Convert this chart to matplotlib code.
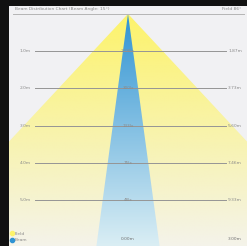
import numpy as np
import matplotlib
matplotlib.use("Agg")
import matplotlib.pyplot as plt
from matplotlib.patches import Polygon
from matplotlib.colors import to_rgb
from matplotlib.lines import Line2D

# ---- data ----
distances = [1, 2, 3, 4, 5]
distance_labels = ["1.0m", "2.0m", "3.0m", "4.0m", "5.0m"]
center_lux = ["1200lx", "300lx", "133lx", "75lx", "48lx"]
diameter_labels = ["1.87m", "3.73m", "5.60m", "7.46m", "9.33m"]
field_angle = 86.0
beam_angle = 15.5
title_text = "Beam Distribution Chart (Beam Angle: 15°)"
title_right = "Field 86°"
bottom_center = "0.00m"
bottom_right = "3.00m"
legend_labels = ["Field", "Beam"]

fig = plt.figure(figsize=(2.47, 2.46), dpi=100, facecolor="#111111")
ax = fig.add_axes([9 / 247, 0, 238 / 247, 240 / 246])
ax.set_facecolor("#f1f1f3")
xlim = (-3.19, 3.19)
ylim = (6.22, -0.21)
ax.set_xlim(*xlim)
ax.set_ylim(*ylim)
ax.set_axis_off()
ax.add_patch(plt.Rectangle((xlim[0], ylim[1]), xlim[1] - xlim[0], ylim[0] - ylim[1],
                           color="#f1f1f3", zorder=0))


def gradient_cone(angle, top_col, bot_col, z):
    half = np.tan(np.radians(angle / 2))
    far = 8.0
    poly = Polygon([(0, 0), (-half * far, far), (half * far, far)], closed=True,
                   facecolor="none", edgecolor="none", transform=ax.transData)
    ax.add_patch(poly)
    n = 256
    t = np.linspace(0, 1, n)[:, None]
    c0 = np.array(to_rgb(top_col))
    c1 = np.array(to_rgb(bot_col))
    img = (c0[None, :] * (1 - t) + c1[None, :] * t)[:, None, :]
    img = np.repeat(img, 2, axis=1)
    im = ax.imshow(img, extent=(xlim[0], xlim[1], 6.22, 0), origin="upper",
                   aspect="auto", zorder=z, interpolation="bilinear")
    im.set_clip_path(poly)


gradient_cone(field_angle, "#fdf36a", "#f4f3ea", 1)
gradient_cone(beam_angle, "#2f93d3", "#daeef4", 2)
ax.set_xlim(*xlim)
ax.set_ylim(*ylim)

tc = "#8a8a8a"
# title and line
ax.text(-3.02, -0.12, title_text, fontsize=3.2, color=tc, va="center", ha="left", zorder=5)
ax.text(3.05, -0.12, title_right, fontsize=3.2, color=tc, va="center", ha="right", zorder=5)
ax.plot([-3.08, 3.12], [0.0, 0.0], color="#b5b5b5", lw=0.7, zorder=4)

for d, ll, cl, rl in zip(distances, distance_labels, center_lux, diameter_labels):
    ax.plot([-2.48, 2.62], [d, d], color="#959595", lw=0.7, zorder=4)
    ax.text(-2.6, d, ll, fontsize=3.2, color=tc, va="center", ha="right", zorder=5)
    ax.text(3.05, d, rl, fontsize=3.2, color=tc, va="center", ha="right", zorder=5)
    ax.text(0.0, d, cl, fontsize=3.0, color=tc, va="center", ha="center", zorder=5)

ax.text(0.0, 6.03, bottom_center, fontsize=3.2, color="#707070", va="center", ha="center", zorder=5)
ax.text(3.05, 6.03, bottom_right, fontsize=3.2, color="#707070", va="center", ha="right", zorder=5)

handles = [Line2D([], [], marker="o", ls="", color="#fdf36a", markersize=3),
           Line2D([], [], marker="o", ls="", color="#2f93d3", markersize=3)]
leg = ax.legend(handles, legend_labels, loc="lower left", bbox_to_anchor=(-0.01, 0.0),
                fontsize=3.2, frameon=False, handletextpad=0.3, labelspacing=0.6,
                borderpad=0.3, handlelength=0.8, labelcolor=tc)

fig.savefig("out.png", dpi=100, facecolor=fig.get_facecolor())
